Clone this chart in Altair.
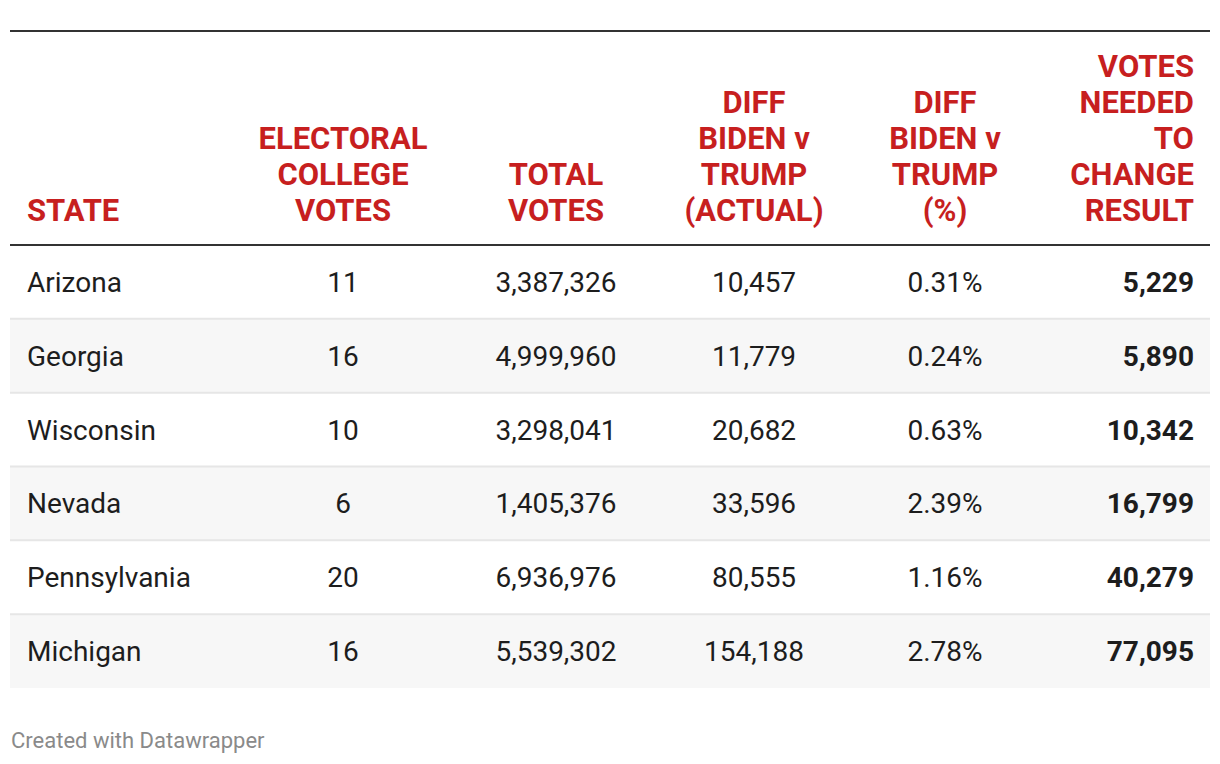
import altair as alt
import pandas as pd

# ---- data ----
states = ["Arizona", "Georgia", "Wisconsin", "Nevada", "Pennsylvania", "Michigan"]
ec_votes = [11, 16, 10, 6, 20, 16]
total_votes = [3387326, 4999960, 3298041, 1405376, 6936976, 5539302]
diff_actual = [10457, 11779, 20682, 33596, 80555, 154188]
diff_pct = [0.31, 0.24, 0.63, 2.39, 1.16, 2.78]
votes_needed = [5229, 5890, 10342, 16799, 40279, 77095]
headers = [
    ["STATE"],
    ["ELECTORAL", "COLLEGE", "VOTES"],
    ["TOTAL", "VOTES"],
    ["DIFF", "BIDEN v", "TRUMP", "(ACTUAL)"],
    ["DIFF", "BIDEN v", "TRUMP", "(%)"],
    ["VOTES", "NEEDED", "TO", "CHANGE", "RESULT"],
]
footer = "Created with Datawrapper"

# ---- tables ----
rows = []
for i, s in enumerate(states):
    cells = [
        s,
        f"{ec_votes[i]}",
        f"{total_votes[i]:,}",
        f"{diff_actual[i]:,}",
        f"{diff_pct[i]:.2f}%",
        f"{votes_needed[i]:,}",
    ]
    for ci, t in enumerate(cells):
        rows.append({"state": s, "ci": ci, "text": t, "ri": i})
cells_df = pd.DataFrame(rows)
rows_df = pd.DataFrame({"state": states, "ri": list(range(len(states)))})

hrows = []
for ci, lines in enumerate(headers):
    n = len(lines)
    for j, line in enumerate(lines):
        hrows.append({"ci": ci, "k": n - 1 - j, "text": line})
head_df = pd.DataFrame(hrows)

W = 1200
FONT = "Roboto"
RED = "#c71f1f"
TXT = "#1d1d1d"

xscale = alt.Scale(domain=[0, 1, 2, 3, 4, 5], range=[17, 333, 546, 744, 935, 1184],
                   zero=False, nice=False)
yscale = alt.Scale(type="band", domain=states, range=[237, 680],
                   paddingInner=0, paddingOuter=0)
# header line index (0 = bottom line) -> baseline position, 36px line height
hscale = alt.Scale(domain=[0, 4], range=[213, 69], zero=False, nice=False)

X = alt.X("ci:Q", scale=xscale, axis=None)
Y = alt.Y("state:N", scale=yscale, axis=None)

shade = alt.Chart(rows_df).mark_rect(color="#f7f7f7").encode(
    y=Y, x=alt.value(0), x2=alt.value(W)
).transform_filter("datum.ri % 2 == 1")

seps = alt.Chart(rows_df).mark_rule(color="#e6e6e6", strokeWidth=2).encode(
    y=alt.Y("state:N", scale=yscale, axis=None, bandPosition=0),
    x=alt.value(0), x2=alt.value(W)
).transform_filter("datum.ri > 0")

head_rule = alt.Chart(rows_df).mark_rule(color="#333333", strokeWidth=2).encode(
    y=alt.Y("state:N", scale=yscale, axis=None, bandPosition=0),
    x=alt.value(0), x2=alt.value(W)
).transform_filter("datum.ri == 0")

top_rule = alt.Chart(pd.DataFrame({"a": [0]})).mark_rule(color="#333333", strokeWidth=2).encode(
    y=alt.value(23), x=alt.value(0), x2=alt.value(W)
)

def body(filter_expr, align, weight):
    return alt.Chart(cells_df).mark_text(
        align=align, baseline="middle", font=FONT, fontSize=28,
        fontWeight=weight, color=TXT, dy=2
    ).encode(x=X, y=Y, text="text:N").transform_filter(filter_expr)

def head(filter_expr, align):
    return alt.Chart(head_df).mark_text(
        align=align, baseline="alphabetic", font=FONT, fontSize=31,
        fontWeight="bold", color=RED
    ).encode(
        x=X, y=alt.Y("k:Q", scale=hscale, axis=None), text="text:N"
    ).transform_filter(filter_expr)

foot = alt.Chart(pd.DataFrame({"t": [footer]})).mark_text(
    align="left", baseline="alphabetic", font=FONT, fontSize=22, color="#8a8a8a"
).encode(x=alt.value(1), y=alt.value(740), text="t:N")

chart = alt.layer(
    shade, seps, head_rule, top_rule,
    body("datum.ci == 0", "left", "normal"),
    body("datum.ci > 0 && datum.ci < 5", "center", "normal"),
    body("datum.ci == 5", "right", "bold"),
    head("datum.ci == 0", "left"),
    head("datum.ci > 0 && datum.ci < 5", "center"),
    head("datum.ci == 5", "right"),
    foot,
).resolve_scale(y="independent").properties(
    width=W, height=748,
    autosize=alt.AutoSizeParams(type="none"),
    padding={"left": 2, "top": 0, "right": 0, "bottom": 0},
).configure_view(stroke=None)

chart.save("out.html", embed_options={"renderer": "svg", "actions": False})
